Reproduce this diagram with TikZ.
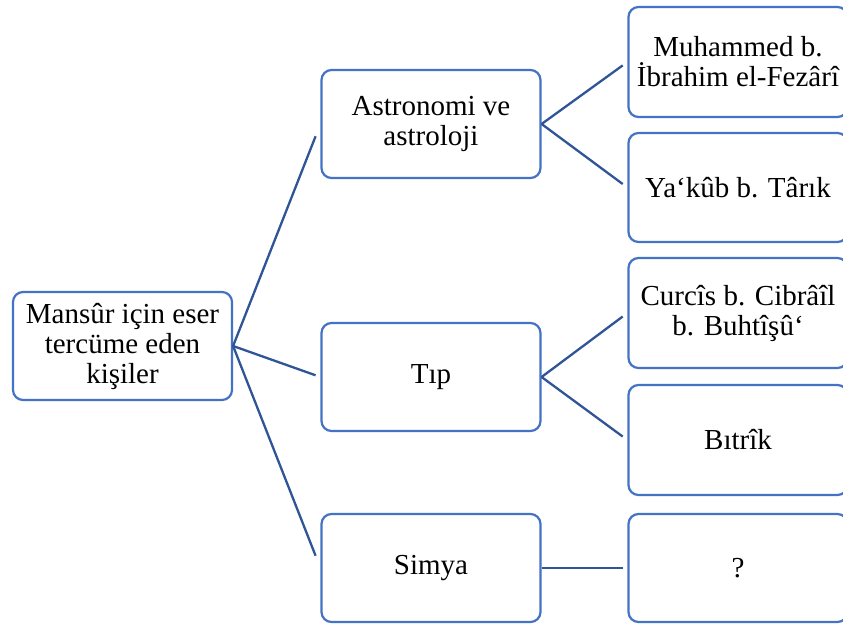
\documentclass[tikz,border=0pt]{standalone}
\usepackage{fontspec}
\setmainfont{Liberation Serif}
\usetikzlibrary{calc}
\definecolor{boxblue}{HTML}{4472C4}
\definecolor{linkblue}{HTML}{2F5597}
\tikzset{
  card/.style={draw=boxblue, line width=2.2pt, rounded corners=10pt, fill=white,
    minimum width=219pt, minimum height=108pt, align=center, inner sep=2pt,
    font=\fontsize{29}{30}\selectfont},
  link/.style={draw=linkblue, line width=2.3pt}
}
\begin{document}
\begin{tikzpicture}[x=1pt,y=-1pt]
\useasboundingbox (0,0) rectangle (843,626);
\clip (0,0) rectangle (843,626);
\fill[white] (0,0) rectangle (843,626);

% root
\node[card] (root) at (122.5,346) {Mansûr için eser\\tercüme eden\\kişiler};

% second level
\node[card] (astro) at (431,124) {Astronomi ve\\astroloji};
\node[card] (tip)   at (431,377) {Tıp};
\node[card] (simya) at (431,568) {Simya};

% third level
\node[card, minimum height=110pt] (muh)  at (738,62)    {Muhammed b.\\İbrahim el-Fezârî};
\node[card, minimum height=109pt] (yak)  at (738,187.5) {Ya‘kûb b. Târık};
\node[card, minimum height=110pt] (curc) at (738,313)   {Curcîs b. Cibrâîl\\b. Buhtîşû‘};
\node[card, minimum height=110pt] (bit)  at (738,440)   {Bıtrîk};
\node[card] (q) at (738,568) {?};

% connectors
\foreach \a/\b in {root/astro, root/tip, root/simya,
                   astro/muh, astro/yak, tip/curc, tip/bit, simya/q}
  \draw[link] (\a.east) -- ($(\a.east)!0.945!(\b.west)$);
\end{tikzpicture}
\end{document}
